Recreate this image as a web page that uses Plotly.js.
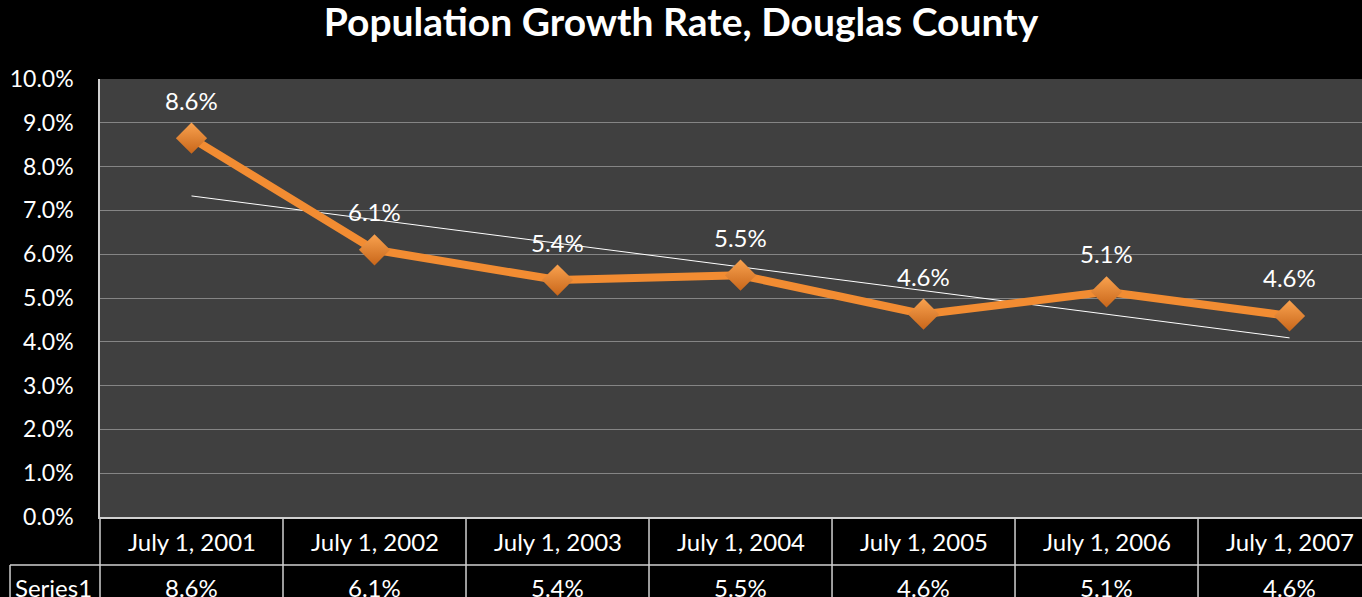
<!DOCTYPE html>
<html>
<head>
<meta charset="utf-8">
<script src="https://cdn.plot.ly/plotly-3.0.1.min.js"></script>
<style>
  html, body { margin: 0; padding: 0; background: #000; }
  #chart { width: 1362px; height: 597px; }
</style>
</head>
<body>
<div id="chart"></div>
<script>
// categories and values
const categories = ['July 1, 2001', 'July 1, 2002', 'July 1, 2003', 'July 1, 2004',
                    'July 1, 2005', 'July 1, 2006', 'July 1, 2007'];
const growthRate = [8.65, 6.10, 5.41, 5.52, 4.63, 5.14, 4.59];
const valueLabels = ['8.6%', '6.1%', '5.4%', '5.5%', '4.6%', '5.1%', '4.6%'];
// linear trendline, first and last category
const trendValues = [7.33, 4.09];
const yTicks = [0, 1, 2, 3, 4, 5, 6, 7, 8, 9, 10];
const yTickText = ['0.0%', '1.0%', '2.0%', '3.0%', '4.0%', '5.0%', '6.0%', '7.0%', '8.0%', '9.0%', '10.0%'];
const seriesName = 'Series1';

const font_family = 'Lato, "Open Sans", sans-serif';
const idx = categories.map((c, i) => i);

const lineTrace = {
    x: idx, y: growthRate, mode: 'lines+markers',
    line: { color: '#F28C32', width: 8 },
    marker: {
        symbol: 'diamond', size: 24, color: '#F9A24F',
        gradient: { type: 'vertical', color: '#C8661A' },
        line: { width: 0 }
    },
    hoverinfo: 'skip'
};

const trendTrace = {
    x: [idx[0], idx[idx.length - 1]], y: trendValues, mode: 'lines',
    line: { color: '#ffffff', width: 1 },
    hoverinfo: 'skip'
};

// paper y for table rows (plot bottom is 0)
const row1_y = -0.055;
const row_line_y = -0.1096;
const row2_y = -0.16;

function lbl(x, y, xref, yref, text, yshift) {
    return { x: x, y: y, xref: xref, yref: yref, text: text, showarrow: false,
        xanchor: 'center', yanchor: 'middle', yshift: yshift || 0,
        font: { color: '#ffffff', size: 24, family: font_family } };
}

const annotations = [];
growthRate.forEach((v, i) => {
    annotations.push(lbl(i, v, 'x', 'y', valueLabels[i], 38));
    annotations.push(lbl(i, row1_y, 'x', 'paper', categories[i]));
    annotations.push(lbl(i, row2_y, 'x', 'paper', valueLabels[i]));
});
annotations.push(lbl(-0.037, row2_y, 'paper', 'paper', seriesName));

const tableLine = { color: '#d0d0d0', width: 1.5 };
const shapes = [
    { type: 'line', xref: 'paper', yref: 'paper', x0: -0.0713, x1: 1, y0: row_line_y, y1: row_line_y, line: tableLine },
    { type: 'line', xref: 'paper', yref: 'paper', x0: -0.0713, x1: -0.0713, y0: row_line_y, y1: -0.3, line: tableLine },
    { type: 'line', xref: 'paper', yref: 'paper', x0: 0, x1: 0, y0: 0, y1: -0.3, line: tableLine }
];
for (let i = 0; i < categories.length - 1; i++) {
    shapes.push({ type: 'line', xref: 'x', yref: 'paper', x0: i + 0.5, x1: i + 0.5, y0: 0, y1: -0.3, line: tableLine });
}

const layout = {
    width: 1362, height: 597,
    paper_bgcolor: '#000000', plot_bgcolor: '#404040',
    margin: { l: 100, r: 0, t: 79, b: 80 },
    showlegend: false,
    title: {
        text: '<b>Population Growth Rate, Douglas County</b>',
        x: 0.5, xref: 'container', y: 0.962, yref: 'container', yanchor: 'middle',
        font: { color: '#ffffff', size: 39, family: font_family }
    },
    xaxis: {
        range: [-0.5, 6.396], showticklabels: false, showgrid: false, zeroline: false,
        showline: true, linecolor: '#d0d0d0', linewidth: 1.5, fixedrange: true
    },
    yaxis: {
        range: [0, 10], tickvals: yTicks, ticktext: yTickText,
        showgrid: true, gridcolor: '#858585', gridwidth: 1, zeroline: false,
        showline: true, linecolor: '#d0d0d0', linewidth: 1.5,
        ticks: '', ticklabelstandoff: 20,
        tickfont: { color: '#ffffff', size: 23, family: font_family }, fixedrange: true
    },
    annotations: annotations,
    shapes: shapes
};

Plotly.newPlot('chart', [trendTrace, lineTrace], layout, { displayModeBar: false });
</script>
</body>
</html>
